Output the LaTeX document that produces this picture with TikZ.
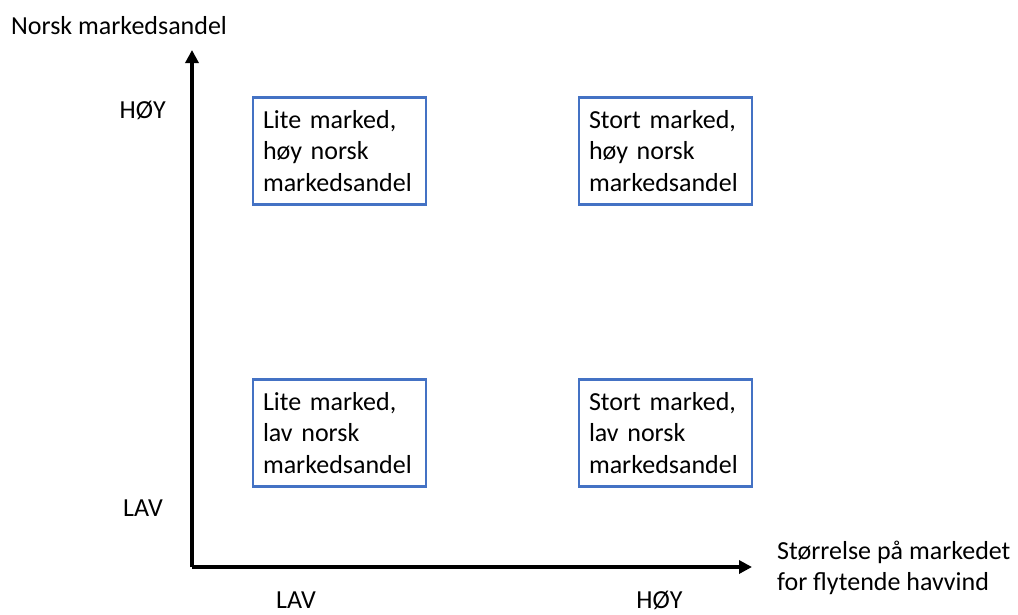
\documentclass[tikz,border=0pt]{standalone}
\usepackage{fontspec}
\setmainfont{Carlito}
\usepackage{tikz}
\usetikzlibrary{arrows.meta}
\usetikzlibrary{positioning}
\definecolor{boxblue}{HTML}{4472C4}

\begin{document}
\begin{tikzpicture}[x=1pt, y=-1pt,
		box_node/.style={rectangle, draw=boxblue, line width=2.2pt, minimum width=173pt, minimum height=107pt, inner xsep=10pt, text width=153pt, align=left, font=\fontsize{26}{31.5}\selectfont},
		label_node/.style={inner sep=0pt, font=\fontsize{26}{31.5}\selectfont},
		axis_arrow/.style={line width=3.5pt, -{Triangle[width=13pt,length=13pt]}}]
				\useasboundingbox (0,0) rectangle (1018,614);
				\node[box_node] (1) at (339.5, 151) {Lite marked,\\ høy norsk\\ markedsandel};
				\node[box_node] (2) at (665.5, 151) {Stort marked,\\ høy norsk\\ markedsandel};
				\node[box_node] (3) at (339.5, 433) {Lite marked,\\ lav norsk\\ markedsandel};
				\node[box_node] (4) at (665.5, 433) {Stort marked,\\ lav norsk\\ markedsandel};
				
				\coordinate (o) at (192, 567);
				\coordinate (ytop) at (192, 50);
				\coordinate (xend) at (752, 567);
				\draw[axis_arrow] (o) -- (ytop);
				\draw[axis_arrow] (o) -- (xend);
				
				\node[label_node, anchor=base west] (ylab) at (11, 34) {Norsk markedsandel};
				\node[label_node, anchor=base east] (yhigh) at (166, 118) {HØY};
				\node[label_node, anchor=base east] (ylow) at (163, 516) {LAV};
				\node[label_node, anchor=base] (xlow) at (296, 608) {LAV};
				\node[label_node, anchor=base] (xhigh) at (659.5, 608) {HØY};
				\node[label_node, anchor=west, align=left] (xlab) at (777, 568) {Størrelse på markedet\\ for flytende havvind};
			\end{tikzpicture}
\end{document}
